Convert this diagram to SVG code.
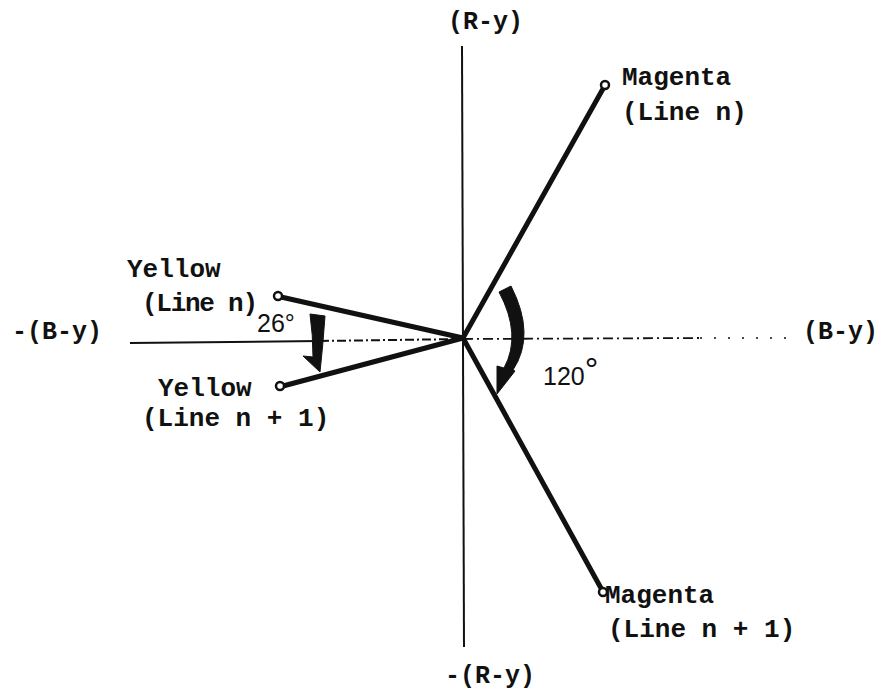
<svg xmlns="http://www.w3.org/2000/svg" width="881" height="690" viewBox="0 0 881 690">
<style>
.t{font-family:"Liberation Mono","Courier New",monospace;font-weight:bold;font-size:26px;fill:#111}
.ax{font-family:"Liberation Mono","Courier New",monospace;font-weight:bold;font-size:25px;fill:#111}
.s{font-family:"Liberation Sans",Arial,sans-serif;font-size:25px;fill:#111}
.vec{stroke:#111;stroke-width:5;stroke-linecap:round;fill:none}
.end{fill:#fff;stroke:#111;stroke-width:2.5}
.axis{stroke:#111;fill:none}
.arr{fill:#111;stroke:#111;stroke-width:1}
</style>
<rect width="881" height="690" fill="#fff"/>
<g id="axes">
<line class="axis" x1="462" y1="46" x2="464" y2="647" stroke-width="2"/>
<line class="axis" x1="130" y1="343" x2="320" y2="341" stroke-width="2"/>
<line class="axis" x1="320" y1="341" x2="463" y2="339" stroke-width="2" stroke-dasharray="9,3,2,3"/>
<line class="axis" x1="463" y1="339" x2="700" y2="338" stroke-width="1.8" stroke-dasharray="10,4,2,4"/>
<line class="axis" x1="700" y1="338" x2="792" y2="338" stroke-width="1.5" stroke-dasharray="2,12"/>
<text class="ax" x="448" y="29">(R-y)</text>
<text class="ax" x="445" y="683" font-size="26">-(R-y)</text>
<text class="ax" x="12" y="339">-(B-y)</text>
<text class="ax" x="803" y="339">(B-y)</text>
</g>
<g id="connectors">
<line class="vec" x1="463" y1="338" x2="604" y2="87"/>
<line class="vec" x1="463" y1="338" x2="602" y2="590"/>
<line class="vec" x1="463" y1="338" x2="281" y2="297"/>
<line class="vec" x1="463" y1="338" x2="283" y2="386"/>
</g>
<g id="magenta-n">
<circle class="end" cx="605" cy="85" r="4"/>
<text class="t" x="622" y="85">Magenta</text>
<text class="t" x="622" y="120">(Line n)</text>
</g>
<g id="magenta-n1">
<circle class="end" cx="603" cy="592" r="4"/>
<text class="t" x="605" y="603">Magenta</text>
<text class="t" x="608" y="637">(Line n + 1)</text>
</g>
<g id="yellow-n">
<circle class="end" cx="278" cy="296" r="4"/>
<text class="t" x="127" y="277">Yellow</text>
<text class="t" x="142" y="311" textLength="116">(Line n)</text>
</g>
<g id="yellow-n1">
<circle class="end" cx="280" cy="386" r="4"/>
<text class="t" x="158" y="396">Yellow</text>
<text class="t" x="142" y="426">(Line n + 1)</text>
</g>
<g id="angle-26">
<path class="arr" d="M310,314 L325,316 Q323,345 320,372 L303,356 L313,357 Q313,335 310,314 Z"/>
<text class="s" x="257" y="332" font-size="26">26°</text>
</g>
<g id="angle-120">
<path class="arr" d="M499,292 L511,286 Q536,335 513,370 L515,371 L497,394 L497,366 L504,368 Q522,335 499,292 Z"/>
<text class="s" x="543" y="385">120<tspan font-size="34" dy="-4">°</tspan></text>
</g>
</svg>
